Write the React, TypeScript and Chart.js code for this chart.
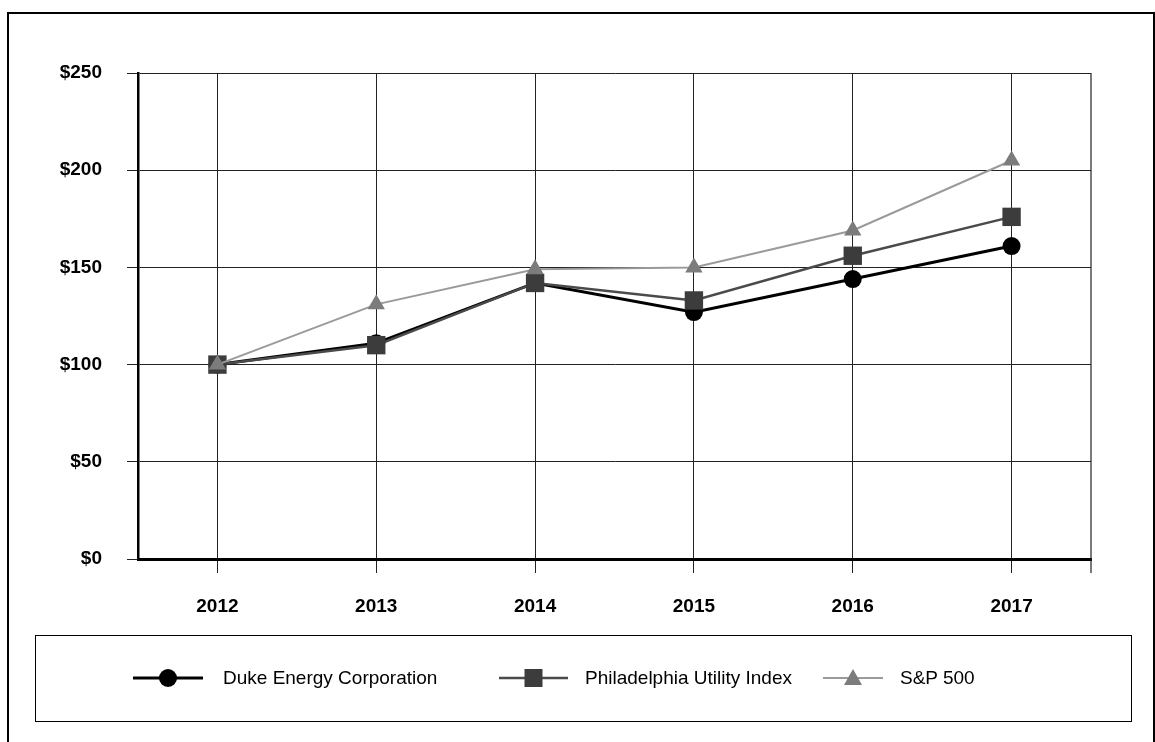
import React, { useEffect, useRef } from "react";
import { Chart, registerables } from "chart.js";

Chart.register(...registerables);

const categories = ["2012", "2013", "2014", "2015", "2016", "2017"];
const seriesNames = ["Duke Energy Corporation", "Philadelphia Utility Index", "S&P 500"];
const dukeValues = [100, 111, 142, 127, 144, 161];
const phlxValues = [100, 110, 142, 133, 156, 176];
const spxValues = [100, 131, 149, 150, 169, 205];
const yTicks = [0, 50, 100, 150, 200, 250];

const lineColors = ["#000000", "#4a4a4a", "#9a9a9a"];
const pointColors = ["#000000", "#3c3c3c", "#7c7c7c"];
const lineWidths = [3, 2.5, 2];
const pointStyles = ["circle", "rect", "triangle"];
const pointRadii = [9, 13, 10];

const FONT = "'Liberation Sans', Arial, sans-serif";

function LegendMarker({ i, w }: { i: number; w: number }) {
  const h = 22;
  const cx = w / 2;
  const cy = h / 2;
  let shape: React.ReactNode = null;
  if (pointStyles[i] === "circle") {
    shape = <circle cx={cx} cy={cy} r={9} fill={pointColors[i]} />;
  } else if (pointStyles[i] === "rect") {
    shape = <rect x={cx - 9} y={cy - 9} width={18} height={18} fill={pointColors[i]} />;
  } else {
    shape = (
      <polygon
        points={`${cx},${cy - 9} ${cx + 9},${cy + 7} ${cx - 9},${cy + 7}`}
        fill={pointColors[i]}
      />
    );
  }
  return (
    <svg width={w} height={h} style={{ display: "block" }}>
      <line x1={0} y1={cy} x2={w} y2={cy} stroke={lineColors[i]} strokeWidth={lineWidths[i]} />
      {shape}
    </svg>
  );
}

const frameRightPlugin = {
  id: "frameRight",
  afterDatasetsDraw(chart: any) {
    const { ctx, chartArea } = chart;
    ctx.save();
    ctx.strokeStyle = "#222";
    ctx.lineWidth = 1.2;
    ctx.beginPath();
    ctx.moveTo(chartArea.right, chartArea.top);
    ctx.lineTo(chartArea.right, chartArea.bottom + 14);
    ctx.stroke();
    ctx.restore();
  },
};

export default function App() {
  const ref = useRef<HTMLCanvasElement | null>(null);

  useEffect(() => {
    if (!ref.current) return;
    const values = [dukeValues, phlxValues, spxValues];
    const chart = new Chart(ref.current, {
      type: "line",
      data: {
        labels: categories,
        datasets: seriesNames.map((name, i) => ({
          label: name,
          data: values[i],
          borderColor: lineColors[i],
          backgroundColor: pointColors[i],
          borderWidth: lineWidths[i],
          pointStyle: pointStyles[i] as any,
          pointRadius: pointRadii[i],
          pointBackgroundColor: pointColors[i],
          pointBorderWidth: 0,
          tension: 0,
          order: 3 - i,
        })),
      },
      options: {
        animation: false,
        responsive: false,
        devicePixelRatio: 1,
        layout: { padding: { left: 0, top: 73, right: 64, bottom: 0 } },
        plugins: { legend: { display: false }, tooltip: { enabled: false } },
        scales: {
          x: {
            offset: true,
            grid: { offset: false, color: "#222", lineWidth: 1, tickLength: 14, tickColor: "#222" },
            border: { color: "#000", width: 3 },
            ticks: {
              color: "#000",
              padding: 22,
              font: { family: FONT, size: 19, weight: "bold" },
            },
            afterFit: (s: any) => {
              s.height = 71;
            },
          },
          y: {
            min: 0,
            max: 250,
            afterBuildTicks: (s: any) => {
              s.ticks = yTicks.map((v) => ({ value: v }));
            },
            grid: { color: "#222", lineWidth: 1, tickLength: 11, tickColor: "#222" },
            border: { color: "#000", width: 2.5 },
            ticks: {
              color: "#000",
              padding: 25,
              font: { family: FONT, size: 19, weight: "bold" },
              callback: (v: any) => "$" + v,
            },
            afterFit: (s: any) => {
              s.width = 138;
            },
          },
        },
      },
      plugins: [frameRightPlugin],
    });
    return () => chart.destroy();
  }, []);

  const legendLefts = [133, 499, 823];
  const markerWidths = [70, 69, 60];
  const textGaps = [20, 17, 17];
  return (
    <div style={{ position: "relative", width: 1155, height: 742 }}>
      <div
        style={{
          position: "fixed",
          left: 7,
          top: 12,
          width: 1148,
          height: 760,
          border: "2px solid #000",
          boxSizing: "border-box",
        }}
      />
      <canvas
        ref={ref}
        width={1155}
        height={630}
        style={{ position: "fixed", left: 0, top: 0, width: 1155, height: 630 }}
      />
      <div
        style={{
          position: "fixed",
          left: 35,
          top: 635,
          width: 1097,
          height: 87,
          border: "1.5px solid #000",
          boxSizing: "border-box",
        }}
      />
      {seriesNames.map((name, i) => (
        <div
          key={name}
          style={{
            position: "fixed",
            left: legendLefts[i],
            top: 667,
            height: 22,
            display: "flex",
            alignItems: "center",
            fontFamily: FONT,
            fontSize: 19,
            color: "#000",
            whiteSpace: "nowrap",
          }}
        >
          <LegendMarker i={i} w={markerWidths[i]} />
          <span style={{ marginLeft: textGaps[i] }}>{name}</span>
        </div>
      ))}
    </div>
  );
}
